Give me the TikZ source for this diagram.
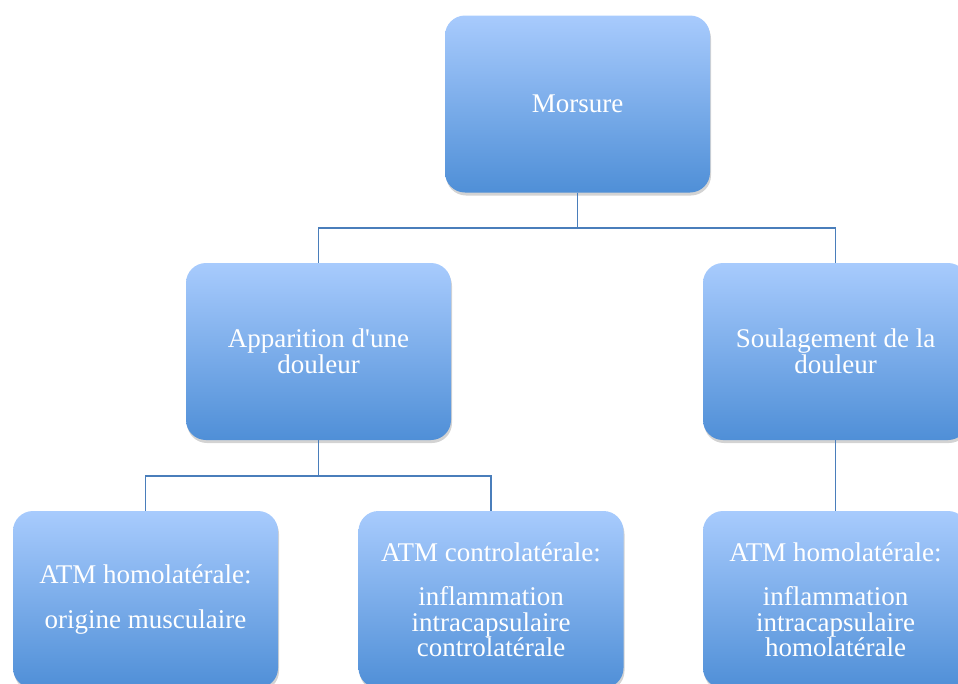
\documentclass[tikz,border=0pt]{standalone}
\usepackage{fontspec}
\setmainfont{Liberation Serif}
\usetikzlibrary{shadows}

\definecolor{boxtop}{HTML}{A8CBFD}
\definecolor{boxbottom}{HTML}{4F8FD7}
\definecolor{linkcol}{HTML}{4A7EBB}

\tikzset{
    carte/.style={rectangle, rounded corners=20pt, minimum width=265pt, minimum height=177pt,
        top color=boxtop, bottom color=boxbottom, draw=none, text=white, align=center,
        font=\fontsize{27}{25.5}\selectfont,
        drop shadow={shadow xshift=1pt, shadow yshift=-3pt, opacity=0.35}},
    lien/.style={draw=linkcol, line width=1.3pt}
}

\begin{document}
\begin{tikzpicture}[x=1pt,y=-1pt]
        \useasboundingbox (0,0) rectangle (958,683);
        \clip (0,0) rectangle (958,683);

        % niveau 1
        \node[carte] (morsure) at (577.5,104) {Morsure};

        % niveau 2
        \node[carte] (apparition) at (318.5,351.5) {Apparition d\textquotesingle une\\douleur};
        \node[carte] (soulagement) at (835.5,351.5) {Soulagement de la\\douleur};

        % niveau 3
        \node[carte] (homo) at (145.5,599.5) {ATM homolatérale:\\[19pt]origine musculaire};
        \node[carte] (contro) at (491,599.5) {ATM controlatérale:\\[19pt]inflammation\\intracapsulaire\\controlatérale};
        \node[carte] (homobis) at (835.5,599.5) {ATM homolatérale:\\[19pt]inflammation\\intracapsulaire\\homolatérale};

        \draw[lien] (morsure.south) -- (577.5,228) -| (apparition.north);
        \draw[lien] (morsure.south) -- (577.5,228) -| (soulagement.north);
        \draw[lien] (apparition.south) -- (318.5,476) -| (homo.north);
        \draw[lien] (apparition.south) -- (318.5,476) -| (contro.north);
        \draw[lien] (soulagement.south) -- (homobis.north);

    \end{tikzpicture}
\end{document}
